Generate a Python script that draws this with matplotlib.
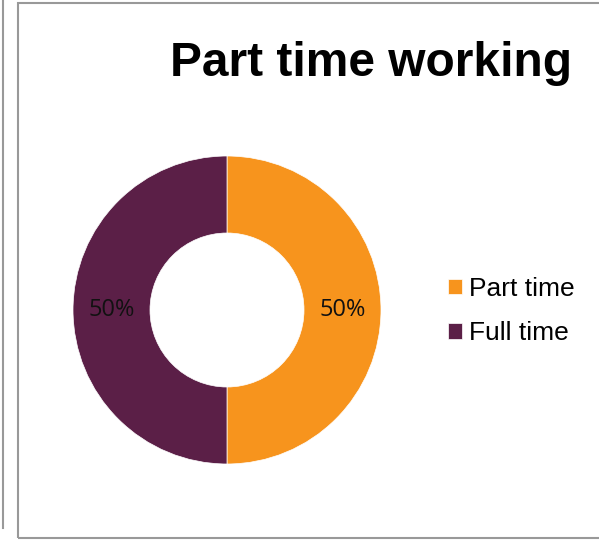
import numpy as np
import matplotlib.pyplot as plt
from matplotlib.patches import Rectangle
from matplotlib.lines import Line2D

labels = ["Part time", "Full time"]
values = [50, 50]
colors = ["#F7941D", "#5B1F47"]
title = "Part time working"

W, H = 599, 541
fig = plt.figure(figsize=(W / 100, H / 100), dpi=100)

# frame borders (page edges of the original)
fig.add_artist(Line2D([2.5 / W, 2.5 / W], [1, 1 - 528 / H], color="#999999", lw=1.5,
                      transform=fig.transFigure))
fig.add_artist(Rectangle((17.5 / W, 1 - 537.5 / H), 1.0, (537.5 - 2.5) / H,
                         transform=fig.transFigure, fill=False,
                         edgecolor="#999999", lw=1.5))

# pie axes: centre (227, 310), radius 154
r = 154
ax = fig.add_axes([(227 - r) / W, 1 - (310 + r) / H, 2 * r / W, 2 * r / H])
wedges, texts = ax.pie(values, colors=colors, startangle=90, counterclock=False,
                       radius=1, wedgeprops=dict(width=0.5, edgecolor="white", linewidth=0.5))
ax.set_xlim(-1, 1)
ax.set_ylim(-1, 1)
ax.set_aspect("equal")
ax.axis("off")

for w, v in zip(wedges, values):
    ang = np.deg2rad((w.theta1 + w.theta2) / 2)
    ax.text(0.75 * np.cos(ang), 0.75 * np.sin(ang), f"{v}%", ha="center", va="center",
            fontsize=17, family="Open Sans", color="#111111")

fig.text(371 / W, 1 - 76 / H, title, ha="center", va="baseline", fontsize=34.5,
         fontweight="bold", family="Liberation Sans")

leg = fig.legend(wedges, labels, loc="center left", bbox_to_anchor=(448 / W, 1 - 311 / H),
                 frameon=False, handlelength=0.54, handleheight=0.54,
                 handletextpad=0.25, labelspacing=0.76, borderpad=0, borderaxespad=0,
                 prop=dict(family="Liberation Sans", size=19))

fig.savefig("out.png", dpi=100, facecolor="white")
